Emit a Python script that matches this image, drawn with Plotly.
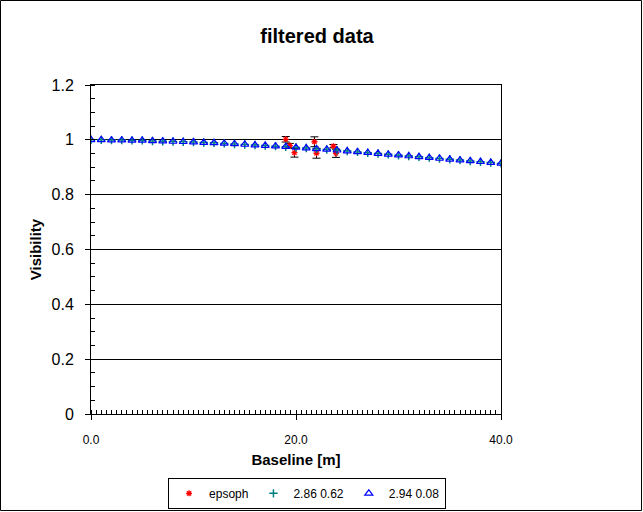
import plotly.graph_objects as go

# model curves (baseline in m, visibility)
baseline = list(range(0, 41))
vis_294 = [1.000, 1.000, 0.999, 0.999, 0.998, 0.998, 0.996, 0.995, 0.994, 0.993,
           0.992, 0.990, 0.989, 0.987, 0.985, 0.983, 0.981, 0.979, 0.977, 0.975,
           0.972, 0.970, 0.967, 0.965, 0.962, 0.959, 0.956, 0.953, 0.950, 0.947,
           0.944, 0.941, 0.938, 0.935, 0.932, 0.929, 0.926, 0.923, 0.920, 0.917,
           0.914]
vis_286 = [1.000, 1.000, 0.999, 0.999, 0.998, 0.998, 0.996, 0.995, 0.994, 0.993,
           0.992, 0.990, 0.989, 0.987, 0.985, 0.983, 0.981, 0.979, 0.977, 0.975,
           0.972, 0.970, 0.967, 0.965, 0.962, 0.959, 0.956, 0.953, 0.950, 0.947,
           0.944, 0.941, 0.938, 0.935, 0.932, 0.929, 0.926, 0.923, 0.920, 0.917,
           0.914]

# measured points
eps_b = [19.0, 19.4, 19.85, 21.8, 22.0, 23.65, 23.9]
eps_v = [1.002, 0.979, 0.953, 0.993, 0.951, 0.977, 0.951]
eps_err = [0.010, 0.008, 0.016, 0.018, 0.018, 0.006, 0.015]

FONT = "Arial, Liberation Sans, sans-serif"

fig = go.Figure()
fig.add_trace(go.Scatter(
    x=eps_b, y=eps_v, mode="markers", name="epsoph",
    marker=dict(symbol="asterisk-open", color="red", size=5,
                line=dict(color="red", width=1.3)),
    error_y=dict(type="data", array=eps_err, color="black", thickness=1, width=4),
))
fig.add_trace(go.Scatter(
    x=baseline, y=vis_286, mode="markers", name="2.86 0.62",
    marker=dict(symbol="cross-thin-open", color="#008080", size=6,
                line=dict(color="#008080", width=1.5)),
))
fig.add_trace(go.Scatter(
    x=baseline, y=vis_294, mode="markers", name="2.94 0.08",
    marker=dict(symbol="triangle-up-open", color="blue", size=7,
                line=dict(color="blue", width=1.2)),
))

# outer chart border
fig.add_shape(type="rect", xref="paper", yref="paper",
              x0=-0.2207, x1=1.3427, y0=-0.2933, y1=1.2568,
              line=dict(color="black", width=1))

fig.update_layout(
    width=643, height=512,
    margin=dict(l=91, r=142, t=85, b=98, autoexpand=False),
    paper_bgcolor="white", plot_bgcolor="white",
    font=dict(family=FONT, color="black"),
    title=dict(text="<b>filtered data</b>", x=0.493, xanchor="center",
               y=0.93, yanchor="middle", font=dict(size=20)),
    showlegend=True,
    legend=dict(orientation="h", x=0.527, xanchor="center", y=-0.194, yanchor="top",
                bordercolor="black", borderwidth=1, bgcolor="white",
                font=dict(size=12), itemwidth=30, tracegroupgap=0),
    xaxis=dict(range=[0, 40], dtick=20, tickformat=".1f",
               showline=True, linecolor="black", linewidth=1, mirror=True,
               ticks="outside", ticklen=5, tickcolor="black",
               showgrid=False, zeroline=False, automargin=False,
               tickfont=dict(size=12), ticklabelstandoff=10,
               minor=dict(dtick=0.5, ticks="inside", ticklen=4, tickcolor="black"),
               title=dict(text="<b>Baseline [m]</b>", font=dict(size=15), standoff=8)),
    yaxis=dict(range=[0, 1.2], dtick=0.2,
               showline=True, linecolor="black", linewidth=1, mirror=True,
               ticks="outside", ticklen=5, tickcolor="black",
               showgrid=True, gridcolor="black", gridwidth=1, zeroline=False,
               automargin=False,
               tickfont=dict(size=16), ticklabelstandoff=8,
               minor=dict(dtick=0.05, ticks="inside", ticklen=4, tickcolor="black"),
               title=dict(text="<b>Visibility</b>", font=dict(size=15), standoff=6)),
)

fig.write_html("out.html", config={"displayModeBar": False},
               post_script="document.body.style.margin='0';")
